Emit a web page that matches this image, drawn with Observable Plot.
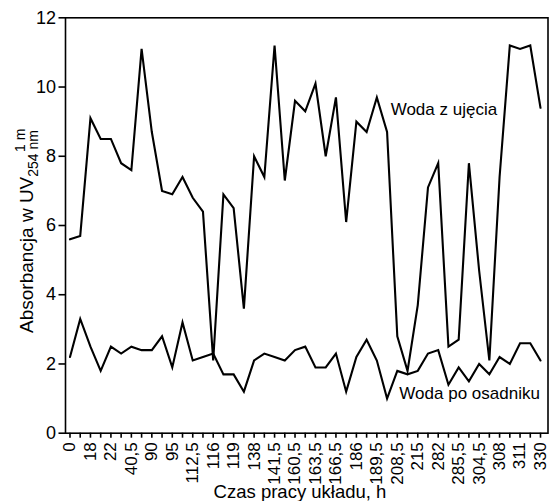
<!DOCTYPE html>
<html>
<head>
<meta charset="utf-8">
<script src="https://cdn.jsdelivr.net/npm/d3@7"></script>
<script src="https://cdn.jsdelivr.net/npm/@observablehq/plot@0.6"></script>
<style>
  html, body { margin: 0; padding: 0; background: white; }
  #chart svg { display: block; }
</style>
</head>
<body>
<div id="chart"></div>
<script>
// Tick labels (every other sampling point is labelled), hours
const xLabels = ["0","18","22","40,5","90","95","112,5","116","119","138","141,5","160,5",
  "163,5","166,5","186","189,5","208,5","215","282","285,5","304,5","308","311","330"];

// Woda z ujęcia (raw water) — absorbance
const wodaZUjecia = [5.6,5.7,9.1,8.5,8.5,7.8,7.6,11.1,8.7,7.0,6.9,7.4,
  6.8,6.4,2.1,6.9,6.5,3.6,8.0,7.4,11.2,7.3,9.6,9.3,
  10.1,8.0,9.7,6.1,9.0,8.7,9.7,8.7,2.8,1.8,3.7,7.1,
  7.8,2.5,2.7,7.8,4.7,2.1,7.4,11.2,11.1,11.2,9.4];

// Woda po osadniku (settled water) — absorbance
const wodaPoOsadniku = [2.2,3.3,2.5,1.8,2.5,2.3,2.5,2.4,2.4,2.8,1.9,3.2,
  2.1,2.2,2.3,1.7,1.7,1.2,2.1,2.3,2.2,2.1,2.4,2.5,
  1.9,1.9,2.3,1.2,2.2,2.7,2.1,1.0,1.8,1.7,1.8,2.3,
  2.4,1.4,1.9,1.5,2.0,1.7,2.2,2.0,2.6,2.6,2.1];

const yTicks = [0, 2, 4, 6, 8, 10, 12];

// Series labels (annotation anchor in data units: point index, absorbance)
const seriesNames = ["Woda z ujęcia", "Woda po osadniku"];
const labelIndex = [31.35, 32.2];
const labelValue = [9.36, 1.15];

const rows = [
  ...wodaZUjecia.map((v, i) => ({i, v, s: seriesNames[0]})),
  ...wodaPoOsadniku.map((v, i) => ({i, v, s: seriesNames[1]}))
];
const labels = seriesNames.map((name, k) => ({name, i: labelIndex[k], v: labelValue[k]}));
const idx = d3.range(wodaZUjecia.length);

const font = "'Liberation Sans', Arial, Helvetica, sans-serif";

const chart = Plot.plot({
  width: 549,
  height: 501,
  marginLeft: 65,
  marginRight: 1.5,
  marginTop: 17.3,
  marginBottom: 68.3,
  style: {fontFamily: font, fontSize: "17px", background: "white", color: "black"},
  x: {domain: [0, idx.length - 1], range: [69.5, 540]},
  y: {domain: [0, 12]},
  marks: [
    Plot.axisX({
      ticks: idx,
      tickFormat: i => (i % 2 === 0 ? xLabels[i / 2] : ""),
      tickRotate: -90,
      tickSize: 5,
      tickPadding: 4,
      strokeWidth: 1.6,
      fontSize: 17,
      label: null
    }),
    Plot.axisY({
      ticks: yTicks,
      tickSize: 6.5,
      tickPadding: 3,
      strokeWidth: 1.6,
      fontSize: 18,
      label: null
    }),
    Plot.frame({stroke: "black", strokeWidth: 1.6}),
    Plot.line(rows, {
      x: "i", y: "v", z: "s",
      stroke: "black", strokeWidth: 2.1,
      strokeLinejoin: "miter", strokeMiterlimit: 6
    }),
    Plot.text(labels, {
      x: "i", y: "v", text: "name",
      textAnchor: "start", fontSize: 17, fill: "black"
    })
  ]
});

const svg = d3.select(chart);
// Y axis title with subscript / superscript
const yt = svg.append("text")
  .attr("transform", "rotate(-90)")
  .attr("x", -333).attr("y", 33)
  .attr("text-anchor", "start")
  .attr("font-size", 19).attr("fill", "black")
  .attr("font-family", font);
yt.append("tspan").text("Absorbancja w UV");
yt.append("tspan").attr("font-size", 14).attr("dy", 5).text("254 nm");
yt.append("tspan").attr("font-size", 14).attr("dx", -22).attr("dy", -13).text("1 m");

// X axis title
svg.append("text")
  .attr("x", 300).attr("y", 498)
  .attr("text-anchor", "middle")
  .attr("font-size", 18.5).attr("fill", "black")
  .attr("font-family", font)
  .text("Czas pracy układu, h");

document.getElementById("chart").append(chart);
</script>
</body>
</html>
